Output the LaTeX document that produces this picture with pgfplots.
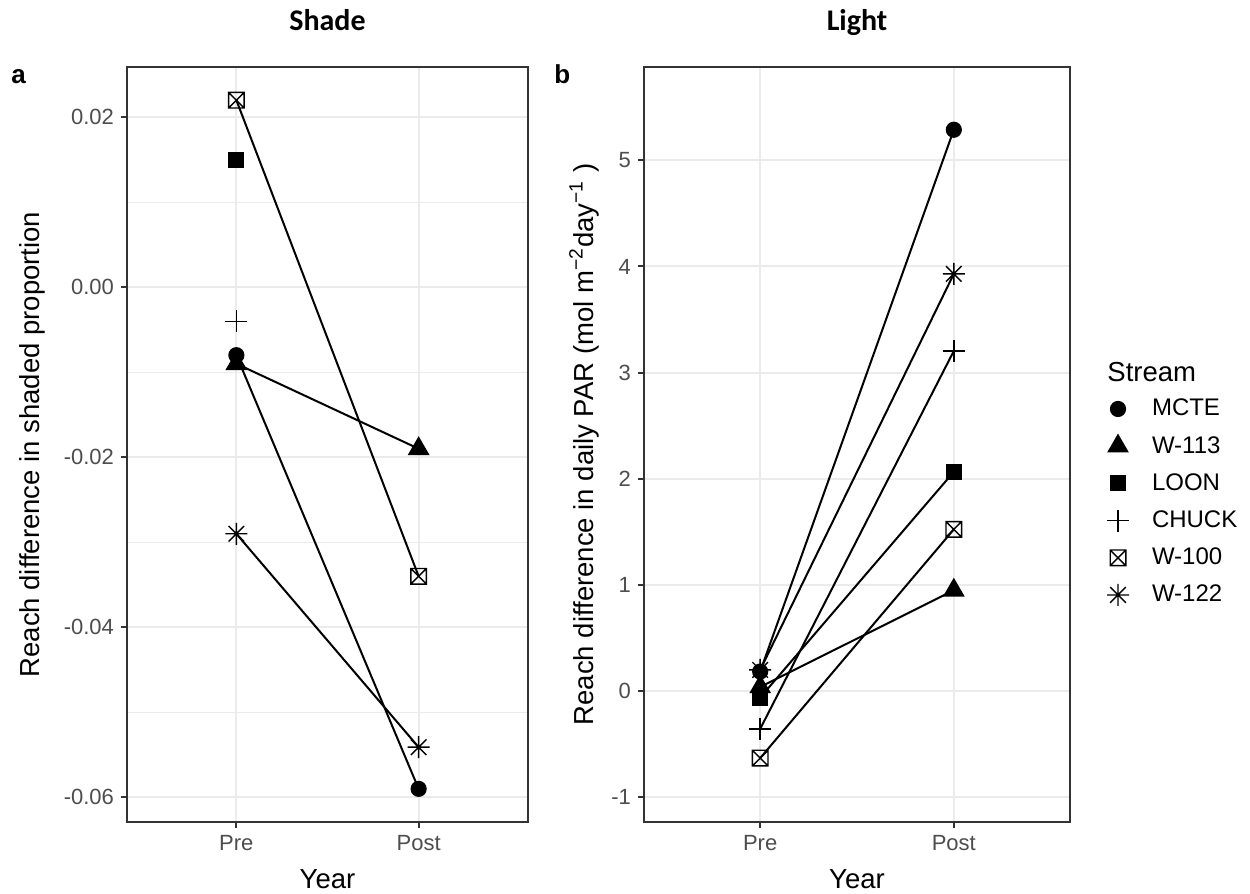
\documentclass[border=0pt]{standalone}
\usepackage{pgfplots}
\pgfplotsset{compat=1.18}
\usepackage{fontspec}
\setmainfont{Liberation Sans}
\newfontfamily\headfont{Carlito}

\definecolor{gridgrey}{HTML}{EBEBEB}
\definecolor{framegrey}{HTML}{333333}
\definecolor{labelgrey}{HTML}{4D4D4D}

% open square with a cross inside
\pgfdeclareplotmark{boxx}{%
  \pgfpathrectangle{\pgfqpoint{-\pgfplotmarksize}{-\pgfplotmarksize}}{\pgfqpoint{2\pgfplotmarksize}{2\pgfplotmarksize}}%
  \pgfpathmoveto{\pgfqpoint{-\pgfplotmarksize}{-\pgfplotmarksize}}%
  \pgfpathlineto{\pgfqpoint{\pgfplotmarksize}{\pgfplotmarksize}}%
  \pgfpathmoveto{\pgfqpoint{-\pgfplotmarksize}{\pgfplotmarksize}}%
  \pgfpathlineto{\pgfqpoint{\pgfplotmarksize}{-\pgfplotmarksize}}%
  \pgfusepathqstroke}
% eight-armed asterisk
\pgfdeclareplotmark{ast8}{%
  \pgfpathmoveto{\pgfqpoint{-\pgfplotmarksize}{0pt}}%
  \pgfpathlineto{\pgfqpoint{\pgfplotmarksize}{0pt}}%
  \pgfpathmoveto{\pgfqpoint{0pt}{-\pgfplotmarksize}}%
  \pgfpathlineto{\pgfqpoint{0pt}{\pgfplotmarksize}}%
  \pgfpathmoveto{\pgfqpoint{-0.7071\pgfplotmarksize}{-0.7071\pgfplotmarksize}}%
  \pgfpathlineto{\pgfqpoint{0.7071\pgfplotmarksize}{0.7071\pgfplotmarksize}}%
  \pgfpathmoveto{\pgfqpoint{-0.7071\pgfplotmarksize}{0.7071\pgfplotmarksize}}%
  \pgfpathlineto{\pgfqpoint{0.7071\pgfplotmarksize}{-0.7071\pgfplotmarksize}}%
  \pgfusepathqstroke}

\pgfplotsset{
  panel/.style={
    scale only axis,
    clip=false,
    axis line style={framegrey, line width=0.7bp},
    xmin=0.4, xmax=2.6,
    xtick={1,2}, xticklabels={Pre,Post},
    scaled y ticks=false,
    tick pos=left,
    tick align=outside,
    major tick length=3bp,
    minor tick length=0pt,
    every tick/.style={framegrey, line width=1bp},
    tick label style={font=\fontsize{11bp}{13bp}\selectfont, text=labelgrey},
    major grid style={gridgrey, line width=1bp},
    minor grid style={gridgrey, line width=0.6bp},
    label style={font=\fontsize{13.75bp}{16bp}\selectfont},
    xlabel={Year},
    xlabel style={at={(rel axis cs:0.5,0)}, anchor=base, yshift=-33bp},
    every axis plot/.append style={black, line width=1bp, mark options={solid, line width=0.7bp}},
  },
  mcte/.style={mark=*, mark size=3.7bp},
  w113/.style={mark=triangle*, mark size=5.6bp},
  loon/.style={mark=square*, mark size=3.7bp},
  chuck/.style={mark=+, mark size=5.5bp},
  w100/.style={mark=boxx, mark size=3.9bp},
  w122/.style={mark=ast8, mark size=5.5bp},
}

\begin{document}
\begin{tikzpicture}
\useasboundingbox (0,0) rectangle (625bp,-447bp);

% ---------- a: shade ----------
\begin{axis}[panel,
  at={(63.5bp,-411bp)}, width=200.5bp, height=377.5bp,
  ymin=-0.0629, ymax=0.0259,
  ytick={-0.06,-0.04,-0.02,0,0.02},
  yticklabels={-0.06,-0.04,-0.02,0.00,0.02},
  minor ytick={-0.05,-0.03,-0.01,0.01},
  grid=both,
  ylabel={Reach difference in shaded proportion},
  ylabel style={at={(rel axis cs:-0.217,0.5)}, rotate=0, anchor=base},
]
\addplot[mcte]  coordinates {(1,-0.008) (2,-0.059)};
\addplot[w113]  coordinates {(1,-0.009) (2,-0.019)};
\addplot[loon]  coordinates {(1,0.015)};
\addplot[chuck] coordinates {(1,-0.004)};
\addplot[w100]  coordinates {(1,0.022) (2,-0.034)};
\addplot[w122]  coordinates {(1,-0.029) (2,-0.0541)};
\end{axis}

% ---------- b: light ----------
\begin{axis}[panel,
  at={(322bp,-411bp)}, width=213bp, height=377.5bp,
  ymin=-1.232, ymax=5.878,
  ytick={-1,0,1,2,3,4,5},
  yticklabels={-1,0,1,2,3,4,5},
  grid=major,
  ylabel={Reach difference in daily PAR (mol m\textsuperscript{−2}day\textsuperscript{−1} )},
  ylabel style={at={(rel axis cs:-0.1197,0.5)}, rotate=0, anchor=base},
  legend style={at={(rel axis cs:1.0845,0.5717)}, anchor=north west,
    draw=none, fill=none, inner sep=0pt, outer sep=0pt,
    row sep=0pt, column sep=0pt,
    font=\fontsize{12bp}{14bp}\selectfont,
    nodes={inner sep=0pt, draw=none, fill=none}},
  legend cell align=left,
  legend image code/.code={%
    \draw[#1] plot coordinates {(0bp,0bp)};
    \path[draw=none, fill=none] (-6bp,-9.3bp) rectangle (17bp,9.3bp);
  },
]
\addplot[mcte]  coordinates {(1,0.185) (2,5.287)};
\addlegendentry{MCTE}
\addplot[w113]  coordinates {(1,0.04) (2,0.95)};
\addlegendentry{W-113}
\addplot[loon]  coordinates {(1,-0.06) (2,2.066)};
\addlegendentry{LOON}
\addplot[chuck] coordinates {(1,-0.355) (2,3.204)};
\addlegendentry{CHUCK}
\addplot[w100]  coordinates {(1,-0.63) (2,1.524)};
\addlegendentry{W-100}
\addplot[w122]  coordinates {(1,0.2) (2,3.93)};
\addlegendentry{W-122}
\end{axis}

% panel headings, tags and legend title
\node[font=\headfont\bfseries\fontsize{15bp}{18bp}\selectfont, anchor=base] at (163.75bp,-15.35bp) {Shade};
\node[font=\headfont\bfseries\fontsize{15bp}{18bp}\selectfont, anchor=base] at (428.5bp,-15.35bp) {Light};
\node[font=\bfseries\fontsize{13bp}{15bp}\selectfont, anchor=base west, inner sep=0pt] at (5.5bp,-41.5bp) {a};
\node[font=\bfseries\fontsize{13bp}{15bp}\selectfont, anchor=base west, inner sep=0pt] at (277bp,-41.5bp) {b};
\node[font=\fontsize{13.75bp}{16bp}\selectfont, anchor=base west, inner sep=0pt] at (553.5bp,-190.5bp) {Stream};
\end{tikzpicture}
\end{document}
